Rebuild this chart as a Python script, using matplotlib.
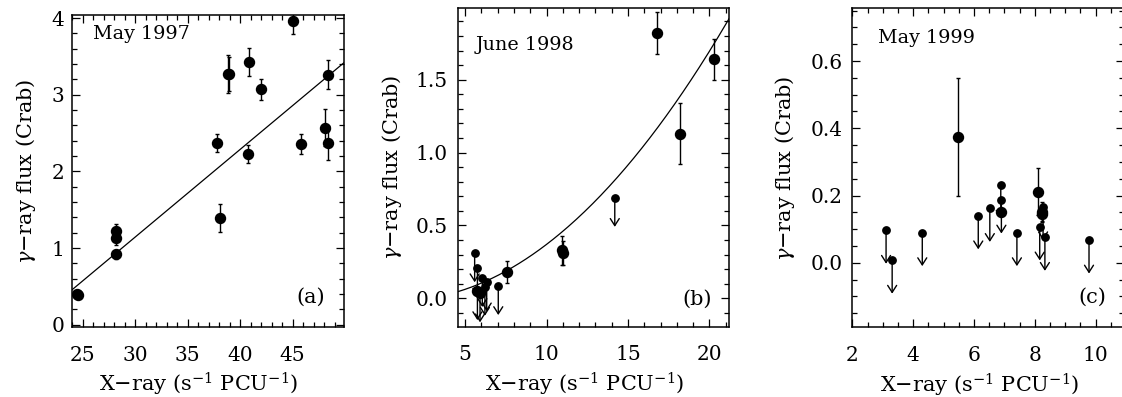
import numpy as np
import matplotlib
matplotlib.use('Agg')
import matplotlib.pyplot as plt
from matplotlib.ticker import MultipleLocator, FormatStrFormatter

plt.rcParams['font.family'] = ['DejaVu Serif']
plt.rcParams['mathtext.fontset'] = 'dejavuserif'

# ---------------- data ----------------
# Panel (a) May 1997: detections (x, y, yerr)
xa = [24.45, 24.6, 28.2, 28.2, 28.2, 37.85, 38.05, 38.85, 38.95, 40.75, 40.9, 42.0, 45.0, 45.85, 48.1, 48.4, 48.4]
ya = [0.40, 0.39, 1.22, 1.13, 0.92, 2.37, 1.39, 3.27, 3.27, 2.23, 3.43, 3.07, 3.96, 2.36, 2.57, 3.26, 2.37]
ea = [0.03, 0.03, 0.09, 0.09, 0.06, 0.12, 0.18, 0.25, 0.22, 0.12, 0.18, 0.14, 0.17, 0.13, 0.24, 0.19, 0.22]
fit_a = [-2.2906, 0.1144]          # linear fit: c0 + c1*x

# Panel (b) June 1998
xb_det = [5.76, 5.92, 7.6, 10.95, 11.0, 16.78, 18.2, 20.31]
yb_det = [0.05, 0.035, 0.18, 0.33, 0.31, 1.82, 1.13, 1.64]
eb_det = [0.02, 0.02, 0.075, 0.10, 0.08, 0.145, 0.21, 0.14]
xb_ul = [5.59, 5.76, 5.76, 5.92, 6.06, 6.22, 6.33, 7.04, 14.19]
yb_ul = [0.31, 0.21, 0.05, 0.035, 0.14, 0.08, 0.11, 0.085, 0.69]
fit_b = [-0.0109, -0.0092, 0.004726]   # quadratic fit: c0 + c1*x + c2*x^2

# Panel (c) May 1999
xc_det = [5.46, 6.88, 8.09, 8.22, 8.25]
yc_det = [0.375, 0.15, 0.211, 0.152, 0.145]
ec_det = [0.175, 0.01, 0.07, 0.03, 0.02]
xc_ul = [3.11, 3.31, 4.30, 6.14, 6.52, 6.88, 6.90, 7.41, 8.16, 8.27, 8.33, 9.78]
yc_ul = [0.097, 0.008, 0.09, 0.14, 0.162, 0.231, 0.187, 0.09, 0.107, 0.167, 0.076, 0.068]

titles = ['May 1997', 'June 1998', 'May 1999']
tags = ['(a)', '(b)', '(c)']
xlabel = 'X\u2212ray (s$^{-1}$ PCU$^{-1}$)'
ylabel = '$\\gamma$\u2212ray flux (Crab)'

# ---------------- figure ----------------
W, H = 1122, 397
fig = plt.figure(figsize=(W / 100, H / 100), dpi=100)


def add_axes(l, r, t, b):
    return fig.add_axes([l / W, 1 - b / H, (r - l) / W, (b - t) / H])


axa = add_axes(72, 344, 15, 327)
axb = add_axes(457.7, 729, 8.3, 326.7)
axc = add_axes(852.3, 1124, 8.3, 327.3)


def style(ax, xlim, ylim, xmaj, xmin, ymaj, ymin, yfmt, ypad, ylab_x):
    ax.set_xlim(*xlim)
    ax.set_ylim(*ylim)
    ax.xaxis.set_major_locator(MultipleLocator(xmaj))
    ax.xaxis.set_minor_locator(MultipleLocator(xmin))
    ax.yaxis.set_major_locator(MultipleLocator(ymaj))
    ax.yaxis.set_minor_locator(MultipleLocator(ymin))
    ax.xaxis.set_major_formatter(FormatStrFormatter('%d'))
    ax.yaxis.set_major_formatter(FormatStrFormatter(yfmt))
    ax.tick_params(which='both', direction='in', top=True, right=True,
                   labelsize=14.5, width=0.9, color='k')
    ax.tick_params(which='major', length=6)
    ax.tick_params(which='minor', length=3.3)
    ax.tick_params(axis='x', pad=13.5)
    ax.tick_params(axis='y', pad=ypad)
    for s in ax.spines.values():
        s.set_linewidth(1.1)
    ax.set_xlabel(xlabel, fontsize=15)
    ax.set_ylabel(ylabel, fontsize=15)
    ax.xaxis.label.set_va('baseline')
    ax.yaxis.label.set_va('center')
    ax.yaxis.set_label_coords(ylab_x, 0.5)


style(axa, (24, 49.9), (-0.03, 4.04), 5, 1, 1, 0.2, '%d', 5.5, -0.169)
style(axb, (4.55, 21.2), (-0.195, 1.99), 5, 1, 0.5, 0.1, '%.1f', 7, -0.242)
style(axc, (2, 10.93), (-0.192, 0.757), 2, 0.5, 0.2, 0.05, '%.1f', 7, -0.246)

axa.xaxis.set_label_coords(0.467, -0.208)
axb.xaxis.set_label_coords(0.467, -0.205)
axc.xaxis.set_label_coords(0.468, -0.203)

ebkw = dict(fmt='o', ms=7.2, color='k', ecolor='k', elinewidth=1.0,
            capsize=1.5, capthick=1.0, zorder=3)


def upper_limits(ax, xs, ys, length):
    ax.plot(xs, ys, 'o', ms=5.3, color='k', zorder=3)
    for xi, yi in zip(xs, ys):
        ax.annotate('', xy=(xi, yi - length), xytext=(xi, yi),
                    arrowprops=dict(arrowstyle='->,head_length=0.36,head_width=0.23',
                                    lw=1.0, color='k', shrinkA=0, shrinkB=0,
                                    mutation_scale=14), zorder=2)


# Panel a
axa.errorbar(xa, ya, yerr=ea, **ebkw)
xx = np.array(axa.get_xlim())
axa.plot(xx, fit_a[0] + fit_a[1] * xx, color='k', lw=0.9, zorder=1)

# Panel b
axb.errorbar(xb_det, yb_det, yerr=eb_det, **ebkw)
upper_limits(axb, xb_ul, yb_ul, 0.2)
xx = np.linspace(*axb.get_xlim(), 200)
axb.plot(xx, fit_b[0] + fit_b[1] * xx + fit_b[2] * xx ** 2, color='k', lw=0.9, zorder=1)

# Panel c
axc.errorbar(xc_det, yc_det, yerr=ec_det, **ebkw)
upper_limits(axc, xc_ul, yc_ul, 0.1)

# Texts
axa.text(0.077, 0.922, titles[0], transform=axa.transAxes, fontsize=13.8, va='baseline')
axb.text(0.067, 0.869, titles[1], transform=axb.transAxes, fontsize=13.8, va='baseline')
axc.text(0.095, 0.892, titles[2], transform=axc.transAxes, fontsize=13.8, va='baseline')
axa.text(0.93, 0.077, tags[0], transform=axa.transAxes, fontsize=15, va='baseline', ha='right')
axb.text(0.936, 0.068, tags[1], transform=axb.transAxes, fontsize=15, va='baseline', ha='right')
axc.text(0.934, 0.077, tags[2], transform=axc.transAxes, fontsize=15, va='baseline', ha='right')

fig.savefig('out.png', dpi=100)
